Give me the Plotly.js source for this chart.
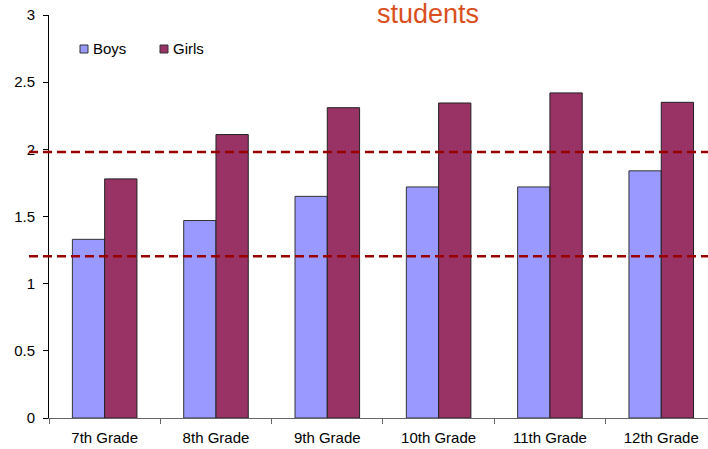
<!DOCTYPE html>
<html><head><meta charset="utf-8">
<script src="https://cdn.plot.ly/plotly-3.0.1.min.js"></script>
<style>html,body{margin:0;padding:0;background:#fff;}</style>
</head><body>
<div id="chart" style="width:708px;height:449px;"></div>
<script>
const categories = ["7th Grade","8th Grade","9th Grade","10th Grade","11th Grade","12th Grade"];
const boys = [1.33, 1.47, 1.65, 1.72, 1.72, 1.84];
const girls = [1.78, 2.11, 2.31, 2.345, 2.42, 2.35];
const refLines = [1.98, 1.205];
const yTicks = [0, 0.5, 1, 1.5, 2, 2.5, 3];
const yTickText = ["0", "0.5", "1", "1.5", "2", "2.5", "3"];
const titleText = "students";
const seriesNames = ["Boys", "Girls"];
const seriesColors = ["#9999FF", "#993366"];

const traces = [
  {type:"bar", name:seriesNames[0], x:categories, y:boys,
   marker:{color:seriesColors[0], line:{color:"#333333", width:1}}},
  {type:"bar", name:seriesNames[1], x:categories, y:girls,
   marker:{color:seriesColors[1], line:{color:"#222222", width:1}}}
];

// pixel helpers for paper coordinates (plot area: x 49..708, y 15..418)
const L = 49, W = 659, T = 15, H = 403;
const px = p => (p - L) / W;
const py = p => (T + H - p) / H;

const shapes = refLines.map(v => ({
  type:"line", xref:"paper", yref:"y", x0:px(29), x1:1, y0:v, y1:v,
  line:{color:"#990000", width:2.5, dash:"9px,5px"}, layer:"above"
}));

// manual legend
const legendX = [80, 160];
seriesNames.forEach((n, i) => {
  shapes.push({type:"rect", xref:"paper", yref:"paper",
    x0:px(legendX[i]), x1:px(legendX[i] + 8), y0:py(53), y1:py(45),
    fillcolor:seriesColors[i], line:{color:"#333333", width:1}});
});

const annotations = [{text:titleText, xref:"paper", yref:"paper", x:px(428), y:1.0,
    xanchor:"center", yanchor:"middle", yshift:1, showarrow:false,
    font:{size:27, color:"#D9501E"}}];
seriesNames.forEach((n, i) => {
  annotations.push({text:n, xref:"paper", yref:"paper", x:px(legendX[i] + 11), y:py(48.5),
    xanchor:"left", yanchor:"middle", showarrow:false, font:{size:15, color:"#000000"}});
});

const layout = {
  width:708, height:449,
  margin:{l:L, r:0, t:T, b:31, pad:0},
  paper_bgcolor:"#ffffff", plot_bgcolor:"#ffffff",
  font:{family:"Liberation Sans, Arial, sans-serif", color:"#000000", size:14},
  barmode:"group", bargap:0.42, bargroupgap:0,
  showlegend:false,
  xaxis:{type:"category", range:[-0.5, 5.42], showgrid:false, zeroline:false,
         showline:true, linecolor:"#666666", linewidth:1,
         ticks:"outside", tickson:"boundaries", ticklen:5, tickcolor:"#666666",
         ticklabelstandoff:6, tickfont:{size:15}, fixedrange:true},
  yaxis:{range:[0,3], tickvals:yTicks, ticktext:yTickText, showgrid:false, zeroline:false,
         showline:true, linecolor:"#000000", linewidth:1,
         ticks:"outside", ticklen:5, tickcolor:"#000000",
         ticklabelstandoff:5, tickfont:{size:15}, fixedrange:true},
  shapes:shapes,
  annotations:annotations
};

Plotly.newPlot("chart", traces, layout, {displayModeBar:false, staticPlot:true});
</script>
</body></html>
